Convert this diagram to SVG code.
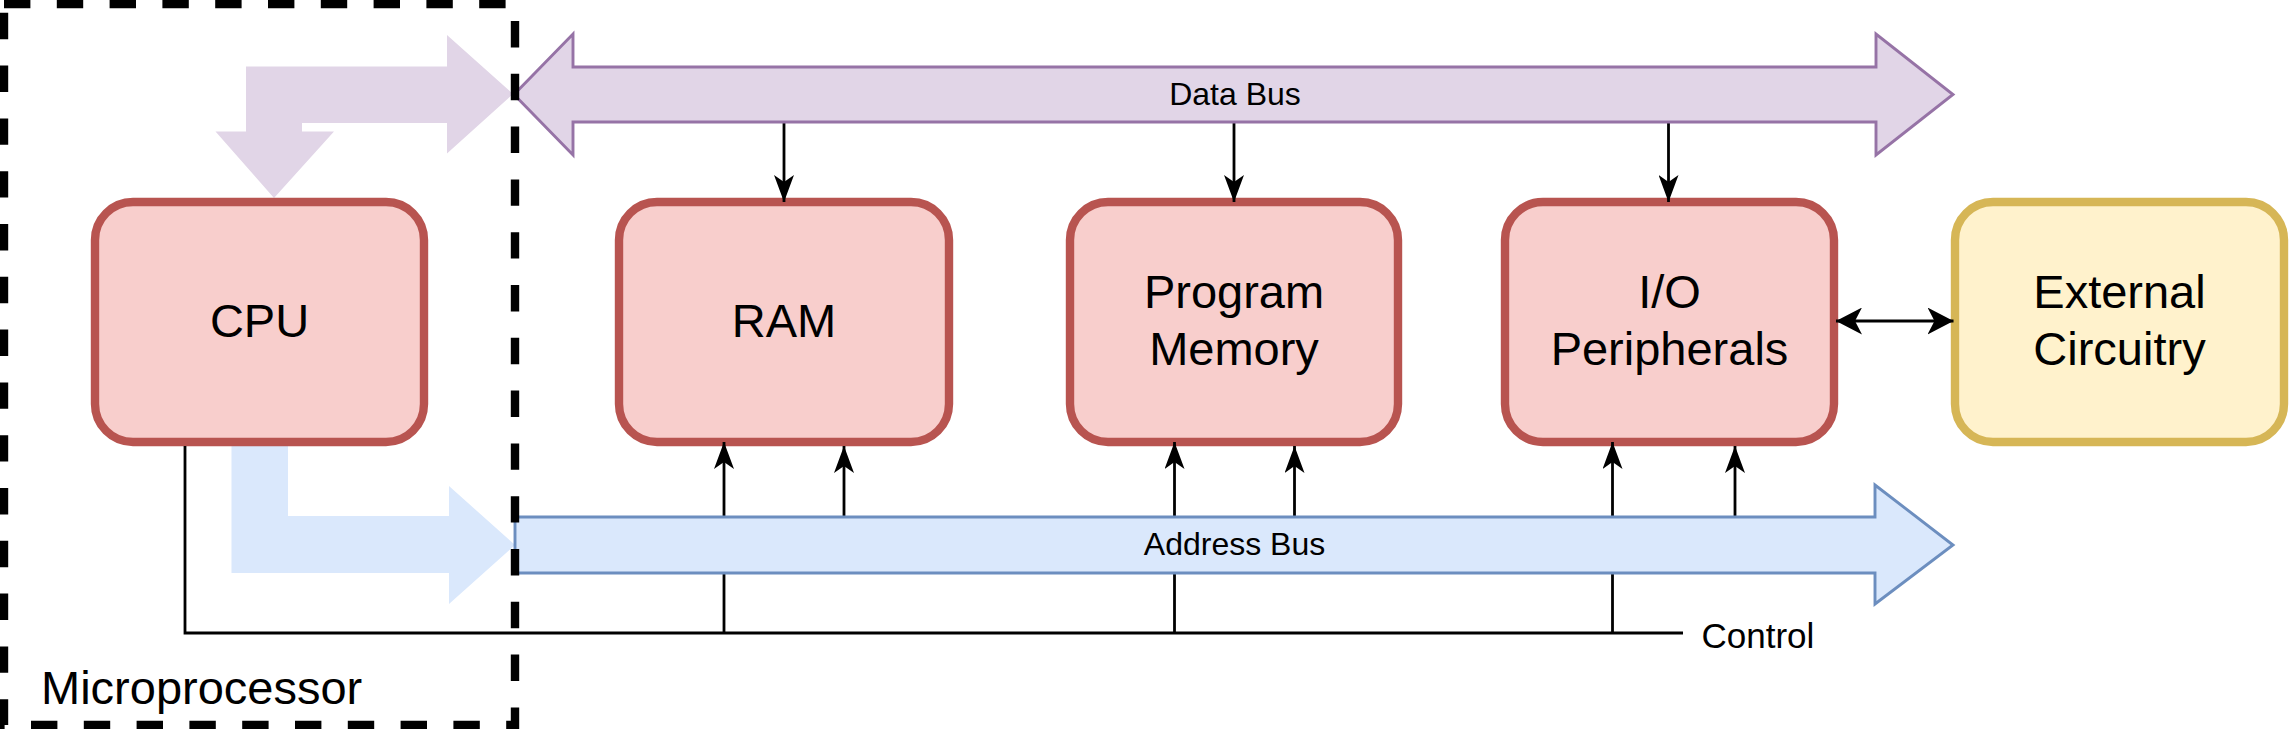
<svg xmlns="http://www.w3.org/2000/svg" width="2292" height="729" viewBox="0 0 2292 729">
  <style>
    .box { fill: #f8cecc; stroke: #b85450; stroke-width: 8.4; }
    .ext { fill: #fff2cc; stroke: #d6b656; stroke-width: 8.4; }
    .big { font-family: "Liberation Sans", Arial, Helvetica, sans-serif; font-size: 47px; fill: #000; text-anchor: middle; }
    .bus { font-family: "Liberation Sans", Arial, Helvetica, sans-serif; font-size: 32px; fill: #000; text-anchor: middle; }
    .wire { fill: none; stroke: #000; stroke-width: 2.8; }
    .arr { marker-end: url(#head); }
  </style>
  <defs>
    <marker id="head" markerUnits="userSpaceOnUse" viewBox="0 0 27 20" refX="27" refY="10" markerWidth="27" markerHeight="20" orient="auto">
      <path d="M27,10 L0,0 L7,10 L0,20 Z" fill="#000"/>
    </marker>
    <marker id="head2" markerUnits="userSpaceOnUse" viewBox="0 0 26 27" refX="26" refY="13.5" markerWidth="26" markerHeight="27" orient="auto-start-reverse">
      <path d="M26,13.5 L0,0 L7,13.5 L0,27 Z" fill="#000"/>
    </marker>
  </defs>

  <rect x="0" y="0" width="2292" height="729" fill="#ffffff"/>

  <g id="cpu-data-arrow">
    <polygon points="274,198 334,131.6 302,131.6 302,123 447,123 447,153.5 513,94 447,35 447,66.5 246,66.5 246,131.6 215.5,131.6" fill="#e1d5e7"/>
  </g>
  <g id="cpu-address-arrow">
    <polygon points="231.5,446 288,446 288,516 449,516 449,486 515,545 449,604 449,573 231.5,573" fill="#dae8fc"/>
  </g>

  <g id="cpu">
    <rect class="box" x="95" y="202" width="329" height="240" rx="38" ry="38"/>
    <text class="big" x="259.5" y="337">CPU</text>
  </g>
  <g id="ram">
    <rect class="box" x="619" y="202" width="330" height="240" rx="38" ry="38"/>
    <text class="big" x="784" y="337">RAM</text>
  </g>
  <g id="program-memory">
    <rect class="box" x="1070" y="202" width="328" height="240" rx="38" ry="38"/>
    <text class="big" x="1234" y="308">Program</text>
    <text class="big" x="1234" y="365">Memory</text>
  </g>
  <g id="io-peripherals">
    <rect class="box" x="1505" y="202" width="329" height="240" rx="38" ry="38"/>
    <text class="big" x="1669.5" y="308">I/O</text>
    <text class="big" x="1669.5" y="365">Peripherals</text>
  </g>
  <g id="external-circuitry">
    <rect class="ext" x="1955" y="202" width="329" height="240" rx="38" ry="38"/>
    <text class="big" x="2119.5" y="308">External</text>
    <text class="big" x="2119.5" y="365">Circuitry</text>
  </g>

  <g id="connectors">
    <line class="wire arr" x1="784" y1="122" x2="784" y2="202"/>
    <line class="wire arr" x1="1234" y1="122" x2="1234" y2="202"/>
    <line class="wire arr" x1="1668.5" y1="122" x2="1668.5" y2="202"/>

    <line class="wire arr" x1="724" y1="633" x2="724" y2="442"/>
    <line class="wire arr" x1="844" y1="517" x2="844" y2="446"/>
    <line class="wire arr" x1="1174.5" y1="633" x2="1174.5" y2="442"/>
    <line class="wire arr" x1="1294.5" y1="517" x2="1294.5" y2="446"/>
    <line class="wire arr" x1="1612.5" y1="633" x2="1612.5" y2="442"/>
    <line class="wire arr" x1="1735" y1="517" x2="1735" y2="446"/>

    <polyline class="wire" points="185,446 185,633 1683,633"/>
    <text x="1701.5" y="648" font-family="Liberation Sans, Arial, Helvetica, sans-serif" font-size="35" fill="#000">Control</text>

    <line class="wire" x1="1836" y1="321" x2="1953.5" y2="321" marker-start="url(#head2)" marker-end="url(#head2)"/>
  </g>

  <g id="data-bus">
    <polygon points="514,94.5 573,34 573,67 1876,67 1876,34 1953,94.5 1876,155 1876,122 573,122 573,155" fill="#e1d5e7" stroke="#9673a6" stroke-width="2.9" stroke-linejoin="miter"/>
    <text class="bus" x="1235" y="105">Data Bus</text>
  </g>
  <g id="address-bus">
    <polygon points="515,517 1875,517 1875,485 1953,545 1875,604 1875,573 515,573" fill="#dae8fc" stroke="#6c8ebf" stroke-width="2.9"/>
    <text class="bus" x="1234.5" y="555">Address Bus</text>
  </g>

  <g id="microprocessor">
    <rect x="4" y="4" width="511" height="721" fill="none" stroke="#000" stroke-width="8.4" stroke-dasharray="26.4 26.4"/>
    <text x="41" y="704" font-family="Liberation Sans, Arial, Helvetica, sans-serif" font-size="47" fill="#000">Microprocessor</text>
  </g>
</svg>
